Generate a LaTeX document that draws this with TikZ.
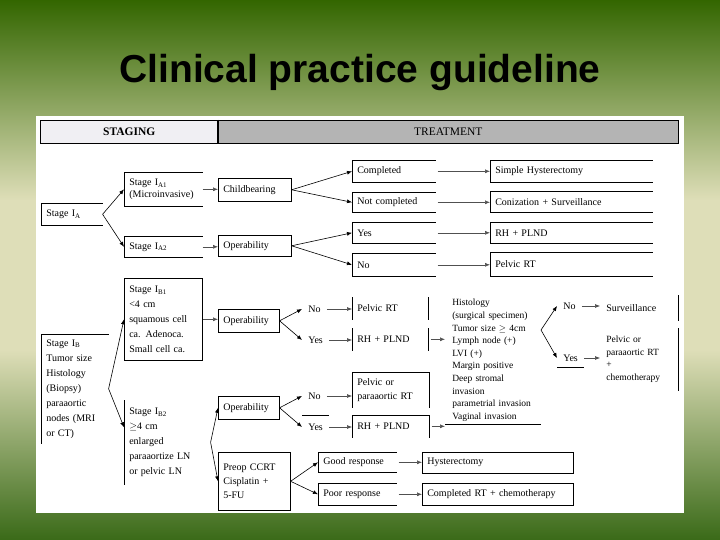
\documentclass[tikz,border=0pt]{standalone}
\usepackage{fontspec}
\setmainfont{Liberation Serif}
\newfontfamily\titlefont{Liberation Sans}
\usepackage{tikz}
\usetikzlibrary{positioning,arrows.meta,calc}
\definecolor{bgtop}{HTML}{336600}
\definecolor{bgpale}{HTML}{DEDEB8}
\definecolor{bgbot}{HTML}{3A6A18}
\definecolor{hdrlight}{HTML}{F0EFF3}
\definecolor{hdrgray}{HTML}{B4B4B4}
\definecolor{arrgray}{HTML}{505050}

\begin{document}
\begin{tikzpicture}[x=1pt, y=-1pt, line width=0.6pt, font=\fontsize{10}{14}\selectfont,
  cell/.style={anchor=north west, text width=#1, align=left, inner xsep=5pt, inner ysep=1pt},
  lbl/.style={anchor=west, inner xsep=6pt, inner ysep=2pt},
  small/.style={font=\fontsize{9.5}{12.6}\selectfont},
  hdr/.style={draw, anchor=north west, minimum height=23pt, inner sep=0pt, font=\fontsize{11.5}{13}\selectfont},
  arr/.style={-{Latex[length=5pt,width=4pt]}}, garr/.style={arr, arrgray}]
\useasboundingbox (0,0) rectangle (720,540);
\shade[top color=bgtop, bottom color=bgpale] (0,0) rectangle (720,200);
\fill[bgpale] (0,200) rectangle (720,350);
\shade[top color=bgpale, bottom color=bgbot] (0,350) rectangle (720,540);
\fill[white] (36,116) rectangle (684,513);
\node[font=\titlefont\bfseries\fontsize{39}{44}\selectfont, anchor=base] (title) at (360,83) {Clinical practice guideline};
\node[hdr, fill=hdrlight, minimum width=178pt] (staging) at (40,120) {\bfseries STAGING};
\node[hdr, fill=hdrgray, minimum width=460pt] (treat) at (218,120) {TREATMENT};
\draw[line width=1.2pt] (treat.north west) -- (treat.south west);

\node[cell=51pt, minimum height=22pt] (ia) at (41,203) {Stage I\textsubscript{A}};
\node[cell=68pt, minimum height=34pt, font=\fontsize{10}{12}\selectfont] (ia1) at (124,172) {Stage I\textsubscript{A1}\\(Microinvasive)};
\node[cell=68pt, minimum height=21pt] (ia2) at (124,236) {Stage I\textsubscript{A2}};
\node[cell=57pt, minimum height=109pt, font=\fontsize{10}{15}\selectfont] (ib) at (41,334) {Stage I\textsubscript{B}\\Tumor size\\Histology\\(Biopsy)\\paraaortic\\nodes (MRI\\or CT)};
\node[cell=68pt, draw, minimum height=82pt, font=\fontsize{10}{15}\selectfont] (ib1) at (124,278) {Stage I\textsubscript{B1}\\<4 cm\\squamous cell\\ca. Adenoca.\\Small cell ca.};
\node[cell=76pt, minimum height=84pt, font=\fontsize{10}{15}\selectfont] (ib2) at (124,400) {Stage I\textsubscript{B2}\\$\geq$4 cm\\enlarged\\paraaortize LN\\or pelvic LN};

\node[cell=63pt, draw, minimum height=23pt] (child) at (218,178) {Childbearing};
\node[cell=63pt, draw, minimum height=21pt] (operA) at (218,235) {Operability};
\node[cell=73pt, minimum height=22pt] (compl) at (352,160) {Completed};
\node[cell=73pt, minimum height=20pt] (notc) at (352,192) {Not completed};
\node[cell=73pt, minimum height=21pt] (yesA) at (352,222) {Yes};
\node[cell=73pt, minimum height=23pt] (noA) at (352,253) {No};
\node[cell=152pt, minimum height=22pt] (simple) at (490,160) {Simple Hysterectomy};
\node[cell=152pt, minimum height=21pt] (coniz) at (490,191) {Conization + Surveillance};
\node[cell=152pt, minimum height=21pt] (rhA) at (490,222) {RH + PLND};
\node[cell=152pt, minimum height=24pt] (pelA) at (490,252) {Pelvic RT};

\node[cell=51pt, draw, minimum height=23pt] (operB1) at (218,309) {Operability};
\node[lbl] (noB1) at (302,309) {No};
\node[lbl] (yesB1) at (302,340) {Yes};
\node[cell=66pt, minimum height=22pt] (pelB1) at (352,297) {Pelvic RT};
\node[cell=66pt, minimum height=22pt] (rhB1) at (352,328) {RH + PLND};
\node[cell=81pt, inner xsep=7pt, minimum height=128pt, small] (hist) at (445,296) {Histology\\(surgical specimen)\\Tumor size $\geq$ 4cm\\Lymph node (+)\\LVI (+)\\Margin positive\\Deep stromal\\invasion\\parametrial invasion\\Vaginal invasion};
\coordinate (hfork) at (541,330);
\node[lbl] (noC) at (557,306) {No};
\node[lbl, minimum height=18pt] (yesC) at (557,358) {Yes};
\node[cell=66pt, inner xsep=6pt, minimum height=25pt] (surv) at (600,295) {Surveillance};
\node[cell=66pt, inner xsep=6pt, minimum height=62pt, small] (pelC) at (600,328) {Pelvic or\\paraaortic RT\\+\\chemotherapy};

\node[cell=51pt, draw, minimum height=23pt] (operB2) at (218,396) {Operability};
\node[lbl] (noB2) at (302,396) {No};
\node[lbl, minimum height=22pt] (yesB2) at (302,427) {Yes};
\node[cell=67pt, minimum height=35pt] (pelB2) at (352,372) {Pelvic or\\paraaortic RT};
\node[cell=67pt, minimum height=22pt] (rhB2) at (352,415) {RH + PLND};
\node[cell=62pt, draw, minimum height=58pt] (preop) at (218,452) {Preop CCRT\\Cisplatin +\\5-FU};
\node[cell=68pt, minimum height=20pt] (good) at (318,452) {Good response};
\node[cell=68pt, minimum height=22pt] (poor) at (318,483) {Poor response};
\node[cell=141pt, draw, minimum height=21pt] (hyst) at (422,452) {Hysterectomy};
\node[cell=141pt, draw, minimum height=22pt] (crt) at (422,483) {Completed RT + chemotherapy};

\foreach \n in {ia,ia1,ia2,compl,notc,yesA,noA,simple,coniz,rhA,pelA,good,poor}
  \draw (\n.north east) -- (\n.north west) -- (\n.south west) -- (\n.south east);
\foreach \n in {pelB1,rhB1} \draw (\n.north west) -- (\n.south west) (\n.north east) -- (\n.south east);
\foreach \n in {pelB2,rhB2} \draw (\n.south west) -- (\n.north west) -- (\n.north east) -- (\n.south east);
\foreach \n in {surv,pelC} \draw (\n.north east) -- (\n.south east);
\draw (ib.south west) -- (ib.north west) -- (ib.north east); \draw (ib2.north west) -- (ib2.south west);
\draw (hist.south west) -- (hist.south east); \draw (yesC.south west) -- (yesC.south east);
\draw (yesB2.north west) -- (yesB2.north east);

\draw[arr] (ia.east) -- (ia1.west); \draw[arr] (ia.east) -- (ia2.west);
\draw[arr] (ib.east) -- (ib1.west); \draw[arr] (ib.east) -- ([yshift=15pt]ib2.west);
\draw[arr] (ib2.east) -- (operB2.west); \draw[arr] (ib2.east) -- (preop.west);
\draw[arr] (child.east) -- (compl.west); \draw[arr] (child.east) -- (notc.west);
\draw[arr] (operA.east) -- (yesA.west); \draw[arr] (operA.east) -- (noA.west);
\draw[arr] (operB1.east) -- (noB1.west); \draw[arr] (operB1.east) -- (yesB1.west);
\draw[arr] (operB2.east) -- (noB2.west); \draw[arr] (operB2.east) -- (yesB2.west);
\draw[arr] (preop.east) -- (good.west); \draw[arr] (preop.east) -- (poor.west);
\draw[arr] (hfork) -- (noC.west); \draw[arr] (hfork) -- (yesC.west);
\draw[garr] (ia1.east) -- (ia1.east -| child.west); \draw[garr] (ia2.east) -- (ia2.east -| operA.west);
\draw[garr] (ib1.east) -- (ib1.east -| operB1.west);
\draw[garr] ([xshift=2pt]compl.east) -- (compl.east -| simple.west); \draw[garr] ([xshift=2pt]notc.east) -- (notc.east -| coniz.west);
\draw[garr] ([xshift=2pt]yesA.east) -- (yesA.east -| rhA.west); \draw[garr] ([xshift=2pt]noA.east) -- (noA.east -| pelA.west);
\draw[garr] (noB1.east) -- (noB1.east -| pelB1.west); \draw[garr] (yesB1.east) -- (yesB1.east -| rhB1.west);
\draw[garr] ([xshift=2pt]rhB1.east) -- (rhB1.east -| hist.west); \draw[garr] ([xshift=2pt]rhB2.east) -- (rhB2.east -| hist.west);
\draw[garr] (noB2.east) -- (noB2.east -| pelB2.west); \draw[garr] (yesB2.east) -- (yesB2.east -| rhB2.west);
\draw[garr] (noC.east) -- (noC.east -| surv.west); \draw[garr] (yesC.east) -- (yesC.east -| pelC.west);
\draw[garr] ([xshift=2pt]good.east) -- (good.east -| hyst.west); \draw[garr] ([xshift=2pt]poor.east) -- (poor.east -| crt.west);
\end{tikzpicture}
\end{document}
